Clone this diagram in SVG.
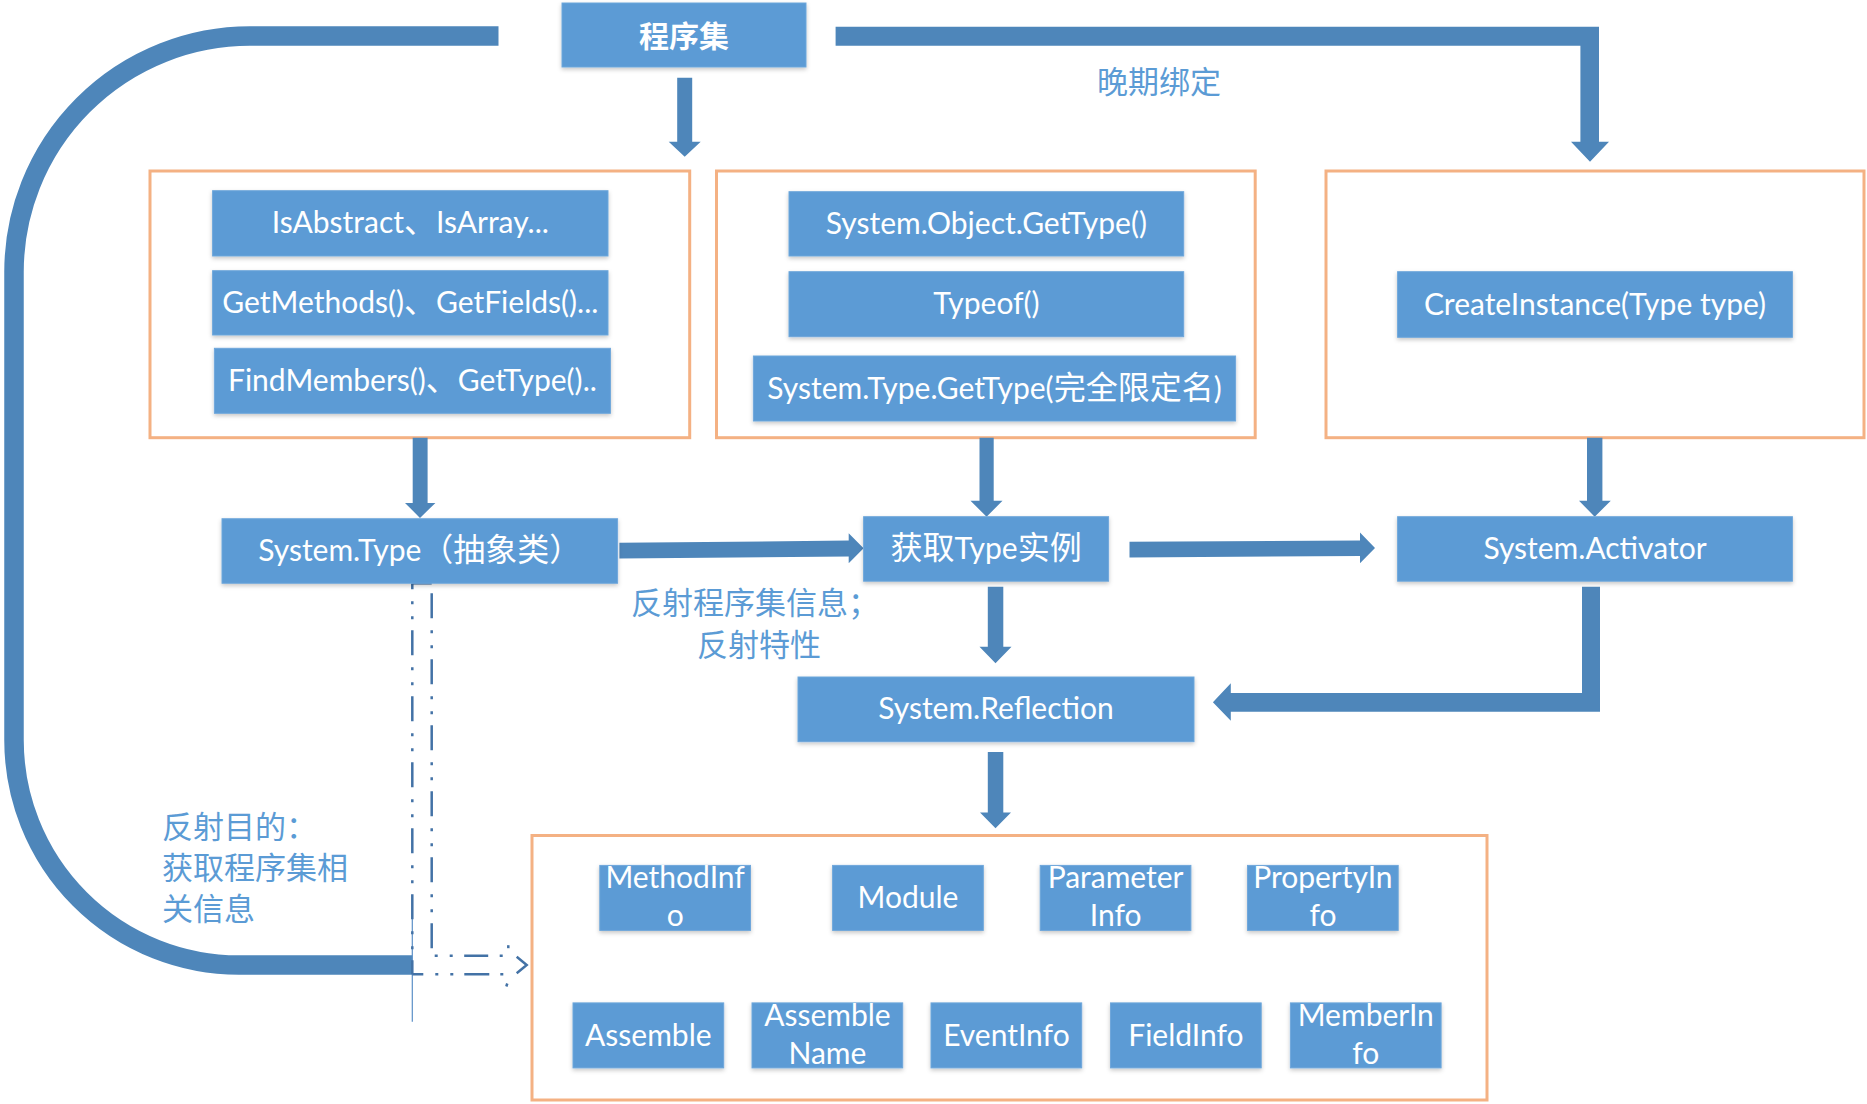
<svg xmlns="http://www.w3.org/2000/svg" width="1867" height="1104" viewBox="0 0 1867 1104">
<defs>
<filter id="sh" x="-10%" y="-20%" width="120%" height="150%">
<feDropShadow dx="0" dy="2" stdDeviation="2" flood-color="#000" flood-opacity="0.22"/>
</filter>
<style>
.box{fill:#5B9BD5;stroke:#6FA7DB;stroke-width:1;filter:url(#sh)}
.grp{fill:none;stroke:#F4B183;stroke-width:3}
.lbl{fill:#fff;font-family:Lato,"Noto Sans CJK SC",sans-serif;font-size:30px;text-anchor:middle}
.cj{font-size:32px}
.note{fill:#5B9BD5;font-family:"Noto Sans CJK SC",sans-serif;font-size:31px}
.conn{fill:#4E86BA}
.curve{fill:none;stroke:#4E86BA;stroke-width:19.5}
.dd{fill:none;stroke:#4372A6;stroke-width:2.5;stroke-dasharray:25 12 3 12 3 11}
.dh{fill:none;stroke:#4372A6;stroke-width:2.5}
</style>
</defs>
<rect width="1867" height="1104" fill="#fff"/>

<g id="groups">
<rect class="grp" x="150" y="171" width="539.7" height="266.7"/>
<rect class="grp" x="716.5" y="171" width="538.7" height="266.7"/>
<rect class="grp" x="1326" y="171" width="538" height="266.7"/>
<rect class="grp" x="532" y="835.5" width="955" height="264.5"/>
</g>

<g id="connectors">
<path class="curve" d="M498.5 36 L250 36 A236 236 0 0 0 14 272 L14 740 A225 225 0 0 0 239 965 L412.3 965"/>
<polygon class="conn" points="835.6,26.7 1599,26.7 1599,141.7 1609,141.7 1590,161.7 1571,141.7 1580.4,141.7 1580.4,45.7 835.6,45.7"/>
<polygon class="conn" points="677.2,77.7 692.2,77.7 692.2,141.7 700.7,141.7 684.7,156.7 668.7,141.7 677.2,141.7"/>
<polygon class="conn" points="412.7,437.7 427.6,437.7 427.6,502.9 435.4,502.9 420,517.9 405,502.9 412.7,502.9"/>
<polygon class="conn" points="979.5,437.7 993.7,437.7 993.7,500.8 1002.5,500.8 986.6,516.7 970.5,500.8 979.5,500.8"/>
<polygon class="conn" points="1587,437.7 1602.4,437.7 1602.4,500.8 1610.8,500.8 1594.7,516.7 1579,500.8 1587,500.8"/>
<polygon class="conn" points="619.4,542.8 848.7,540.6 848.7,533.3 863.6,548.3 848.7,563.3 848.7,556.4 619.4,558.5"/>
<polygon class="conn" points="1129.5,541.7 1360,540.4 1360,532.5 1375,547.9 1360,563.3 1360,556 1129.5,557.5"/>
<polygon class="conn" points="987.8,586.7 1003.3,586.7 1003.3,646.7 1011.5,646.7 995.5,663.3 979.5,646.7 987.8,646.7"/>
<polygon class="conn" points="1582,586.7 1600,586.7 1600,711.7 1230.8,711.7 1230.8,720.8 1212.9,702.3 1230.8,683.3 1230.8,693 1582,693"/>
<polygon class="conn" points="987.8,752 1003.3,752 1003.3,812.5 1011,812.5 995.5,828.3 980,812.5 987.8,812.5"/>
<line x1="412.3" y1="910" x2="412.3" y2="1021.7" stroke="#5B8FC7" stroke-width="1.2"/>
<g id="dashed-bent-arrow">
<path class="dh" d="M412.3,583.3 L431.7,583.3"/>
<path class="dd" d="M412.3,583.3 L412.3,974.3" stroke-dashoffset="19"/>
<path class="dd" d="M431.7,583.3 L431.7,948.5" stroke-dashoffset="56"/>
<path class="dh" d="M434.7,955.7 L508.3,955.7" stroke-dasharray="3 12 3 11.5 24 11.5 3 100"/>
<path class="dh" d="M412.3,974.3 L508.3,974.3" stroke-dasharray="11 12 3 12 3 11 25 11 3 100"/>
<path class="dh" d="M508.3,945.2 L508.3,948.2"/>
<path class="dh" d="M507.3,983.5 L506.3,986.5"/>
<polyline class="dh" points="516.7,956.7 526.7,965 516.7,973.3"/>
</g>
</g>

<g id="n-assembly"><rect class="box" x="562" y="3" width="244" height="64"/><text class="lbl" x="684" y="47" font-size="33" font-weight="bold">程序集</text></g>

<g id="n-isabstract"><rect class="box" x="212.6" y="190.7" width="395.4" height="65.3"/><text class="lbl" x="410.3" y="233">IsAbstract<tspan class="cj">、</tspan>IsArray...</text></g>
<g id="n-getmethods"><rect class="box" x="212.6" y="270.7" width="395.4" height="64.3"/><text class="lbl" x="410.3" y="313">GetMethods()<tspan class="cj">、</tspan>GetFields()...</text></g>
<g id="n-findmembers"><rect class="box" x="214.4" y="348.3" width="396" height="65"/><text class="lbl" x="412.4" y="391">FindMembers()<tspan class="cj">、</tspan>GetType()..</text></g>

<g id="n-objgettype"><rect class="box" x="789" y="191.7" width="394.7" height="64.3"/><text class="lbl" x="986.4" y="234">System.Object.GetType()</text></g>
<g id="n-typeof"><rect class="box" x="789" y="271.7" width="394.7" height="65"/><text class="lbl" x="986.4" y="314">Typeof()</text></g>
<g id="n-typegettype"><rect class="box" x="753.4" y="356" width="482.2" height="65"/><text class="lbl" x="994.5" y="398.5">System.Type.GetType(<tspan class="cj">完全限定名</tspan>)</text></g>

<g id="n-createinstance"><rect class="box" x="1397.6" y="271.7" width="394.8" height="65.6"/><text class="lbl" x="1595" y="314.5">CreateInstance(Type type)</text></g>

<g id="n-systemtype"><rect class="box" x="222" y="518.75" width="395.6" height="64.5"/><text class="lbl" x="419.8" y="561">System.Type<tspan class="cj">（抽象类）</tspan></text></g>
<g id="n-gettype"><rect class="box" x="863.6" y="516.7" width="245" height="64.5"/><text class="lbl" x="986.1" y="559"><tspan class="cj">获取</tspan>Type<tspan class="cj">实例</tspan></text></g>
<g id="n-activator"><rect class="box" x="1397.6" y="516.7" width="394.8" height="64.5"/><text class="lbl" x="1595" y="559">System.Activator</text></g>
<g id="n-reflection"><rect class="box" x="798" y="677" width="396" height="64.7"/><text class="lbl" x="996" y="719.3">System.Reflection</text></g>

<g id="n-methodinfo"><rect class="box" x="599.8" y="865.4" width="150.7" height="65"/><text class="lbl" x="675.2" y="888">MethodInf</text><text class="lbl" x="675.2" y="926">o</text></g>
<g id="n-module"><rect class="box" x="832.6" y="865.4" width="150.7" height="65"/><text class="lbl" x="908" y="908">Module</text></g>
<g id="n-parameterinfo"><rect class="box" x="1040.2" y="865.4" width="150.7" height="65"/><text class="lbl" x="1115.6" y="888">Parameter</text><text class="lbl" x="1115.6" y="926">Info</text></g>
<g id="n-propertyinfo"><rect class="box" x="1247.5" y="865.4" width="150.7" height="65"/><text class="lbl" x="1322.9" y="888">PropertyIn</text><text class="lbl" x="1322.9" y="926">fo</text></g>

<g id="n-assemble"><rect class="box" x="573" y="1002.9" width="150.7" height="65"/><text class="lbl" x="648.3" y="1045.5">Assemble</text></g>
<g id="n-assemblename"><rect class="box" x="752" y="1002.9" width="150.7" height="65"/><text class="lbl" x="827.4" y="1025.5">Assemble</text><text class="lbl" x="827.4" y="1064">Name</text></g>
<g id="n-eventinfo"><rect class="box" x="931" y="1002.9" width="150.7" height="65"/><text class="lbl" x="1006.4" y="1045.5">EventInfo</text></g>
<g id="n-fieldinfo"><rect class="box" x="1110.5" y="1002.9" width="150.7" height="65"/><text class="lbl" x="1185.9" y="1045.5">FieldInfo</text></g>
<g id="n-memberinfo"><rect class="box" x="1290.4" y="1002.9" width="150.7" height="65"/><text class="lbl" x="1365.8" y="1025.5">MemberIn</text><text class="lbl" x="1365.8" y="1064">fo</text></g>

<g id="labels">
<text class="note" x="1097" y="92.5">晚期绑定</text>
<text class="note" x="631" y="614">反射程序集信息；</text>
<text class="note" x="697" y="655.5">反射特性</text>
<text class="note" x="162" y="838">反射目的：</text>
<text class="note" x="162" y="878.5">获取程序集相</text>
<text class="note" x="162" y="919.5">关信息</text>
</g>
</svg>
